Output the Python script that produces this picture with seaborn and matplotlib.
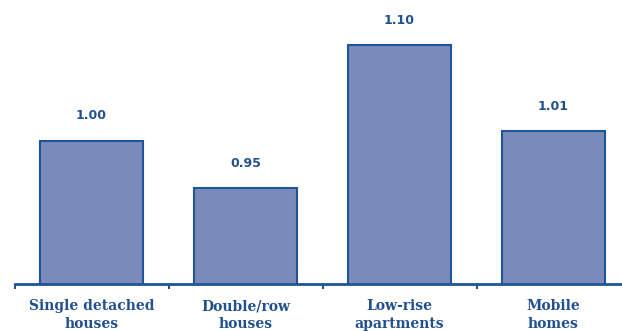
import matplotlib
matplotlib.use("Agg")
import matplotlib.pyplot as plt
import seaborn as sns
import pandas as pd
from matplotlib.ticker import FixedLocator

# Relative values by dwelling type
categories = ["Single detached\nhouses", "Double/row\nhouses", "Low-rise\napartments", "Mobile\nhomes"]
values = [1.00, 0.95, 1.10, 1.01]
value_labels = ["1.00", "0.95", "1.10", "1.01"]

df = pd.DataFrame({"category": categories, "value": values})

sns.set_theme(style="white")
plt.rcParams["font.family"] = ["DejaVu Sans"]

text_color = "#22508f"
bar_fill = "#7a8bbb"
bar_edge = "#1f5596"

fig = plt.figure(figsize=(6.22, 3.31), dpi=100)
ax = fig.add_axes([14.5 / 622, 47.5 / 331, (622 - 14.5) / 622, 283.5 / 331])

sns.barplot(data=df, x="category", y="value", color=bar_fill, saturation=1,
            width=0.67, edgecolor=bar_edge, linewidth=1.5, ax=ax)

ax.set_ylim(0.85, 0.85 + 283.5 / 953)
ax.set_xlim(-0.5, -0.5 + 607.5 / 154)

ax.bar_label(ax.containers[0], labels=value_labels, padding=13,
             color=text_color, fontsize=9, fontweight="bold")

for side in ["top", "right", "left"]:
    ax.spines[side].set_visible(False)
ax.spines["bottom"].set_color(bar_edge)
ax.spines["bottom"].set_linewidth(2)

ax.set_yticks([])
ax.set_xlabel("")
ax.set_ylabel("")
ax.tick_params(axis="x", which="major", length=0, pad=11.5, labelcolor=text_color)
ax.xaxis.set_minor_locator(FixedLocator([-0.5, 0.5, 1.5, 2.5]))
ax.tick_params(axis="x", which="minor", bottom=True, length=3.5, width=1.5, color=bar_edge)
for lbl in ax.get_xticklabels():
    lbl.set_fontfamily(["DejaVu Serif"])
    lbl.set_fontweight("bold")
    lbl.set_fontsize(10)
    lbl.set_linespacing(1.3)
    lbl.set_verticalalignment("top")

fig.savefig("out.png", dpi=100)
